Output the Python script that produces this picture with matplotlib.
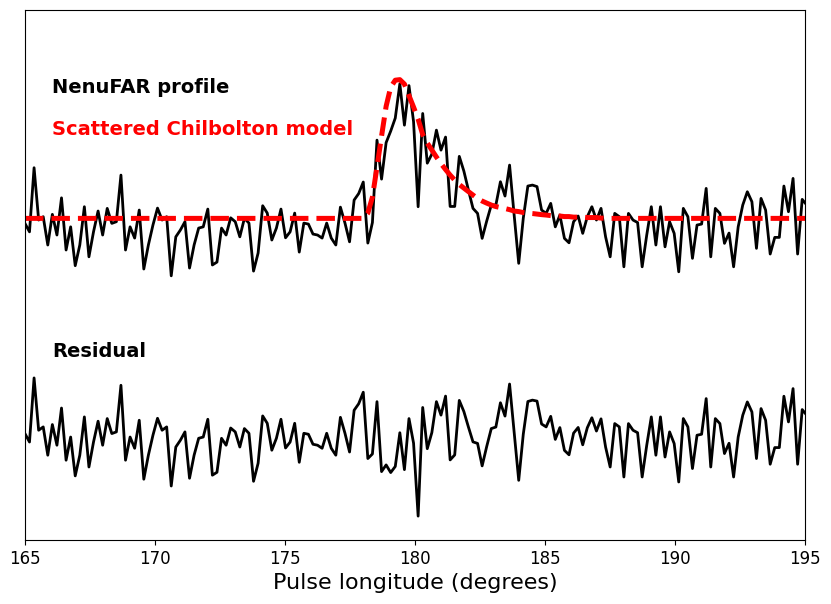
import numpy as np
import matplotlib
matplotlib.use("Agg")
import matplotlib.pyplot as plt

# pulse longitude grid: 2048 bins per turn, starting at 165 deg
LON_START = 165.0
BIN_WIDTH = 360.0 / 2048

# NenuFAR profile (normalised to model peak), one value per bin
profile = [
    -0.036, -0.097, 0.365, -0.012, 0.012, -0.192, 0.029, -0.120, 0.148, -0.228,
    -0.061, -0.341, -0.192, 0.084, -0.277, -0.097, 0.053, -0.120, 0.072, -0.036,
    -0.024, 0.312, -0.228, -0.061, -0.142, 0.060, -0.365, -0.192, -0.048, 0.074,
    -0.012, 0.012, -0.414, -0.133, -0.084, -0.024, -0.358, -0.192, -0.070, -0.061,
    0.067, -0.336, -0.315, -0.070, -0.120, 0.004, -0.024, -0.133, 0.000, -0.034,
    -0.380, -0.250, 0.091, 0.038, -0.156, -0.070, 0.067, -0.140, -0.097, 0.038,
    -0.243, -0.034, -0.041, -0.113, -0.120, -0.142, -0.034, -0.142, -0.192, 0.081,
    -0.034, -0.169, 0.132, 0.179, 0.262, -0.178, -0.030, 0.564, 0.283, 0.546,
    0.629, 0.723, 0.970, 0.672, 0.957, 0.697, 0.084, 0.756, 0.398, 0.463,
    0.636, 0.492, 0.586, 0.086, 0.086, 0.447, 0.341, 0.204, 0.072, 0.036,
    -0.144, -0.019, 0.096, 0.096, 0.264, 0.161, 0.384, 0.024, -0.324, 0.002,
    0.233, 0.240, 0.229, 0.060, 0.036, 0.108, -0.061, 0.024, -0.144, -0.176,
    -0.024, 0.017, -0.108, 0.012, 0.084, -0.012, 0.072, -0.133, -0.277, 0.036,
    0.012, -0.349, 0.036, -0.012, -0.030, -0.349, -0.120, 0.084, -0.192, 0.084,
    -0.205, -0.024, -0.108, -0.385, 0.072, 0.012, -0.288, -0.048, -0.041, 0.216,
    -0.277, 0.072, 0.036, -0.180, -0.106, -0.349, -0.061, 0.096, 0.192, 0.120,
    -0.216, 0.144, 0.060, -0.257, -0.137, -0.137, 0.233, 0.048, 0.288, -0.257,
    0.137, 0.096,
]

# scattered Chilbolton model, non-zero part (bins 74..126), zero elsewhere
MODEL_FIRST_BIN = 74
model_part = [
    0.000, 0.038, 0.153, 0.370, 0.593, 0.808, 0.946, 0.996, 1.000, 0.968,
    0.885, 0.802, 0.715, 0.604, 0.543, 0.492, 0.442, 0.395, 0.352, 0.312,
    0.276, 0.244, 0.218, 0.193, 0.168, 0.143, 0.125, 0.110, 0.096, 0.085,
    0.078, 0.071, 0.063, 0.053, 0.049, 0.042, 0.038, 0.035, 0.031, 0.027,
    0.024, 0.020, 0.017, 0.017, 0.013, 0.013, 0.009, 0.009, 0.009, 0.006,
    0.006, 0.006, 0.002,
]

RESID_OFFSET = -1.515

profile = np.array(profile)
lon = LON_START + np.arange(len(profile)) * BIN_WIDTH
model = np.zeros_like(profile)
model[MODEL_FIRST_BIN:MODEL_FIRST_BIN + len(model_part)] = model_part
residual = profile - model

fig, ax = plt.subplots(figsize=(8.31, 6.04), dpi=100)
fig.subplots_adjust(left=0.030, right=0.969, top=0.983, bottom=0.106)

ax.plot(lon, profile, color="black", lw=2.0)
ax.plot(lon, model, color="red", lw=3.6, ls="--")
ax.plot(lon, residual + RESID_OFFSET, color="black", lw=2.0)

ax.text(166.04, 0.946, "NenuFAR profile", fontsize=14, fontweight="bold",
        color="black", va="center")
ax.text(166.04, 0.643, "Scattered Chilbolton model", fontsize=14, fontweight="bold",
        color="red", va="center")
ax.text(166.04, -0.963, "Residual", fontsize=14, fontweight="bold",
        color="black", va="center")

ax.set_xlim(165, 195)
ax.set_ylim(-2.318, 1.50)
ax.set_xticks([165, 170, 175, 180, 185, 190, 195])
ax.tick_params(axis="x", labelsize=12)
ax.set_yticks([])
ax.set_xlabel("Pulse longitude (degrees)", fontsize=16)

fig.savefig("out.png", dpi=100)
